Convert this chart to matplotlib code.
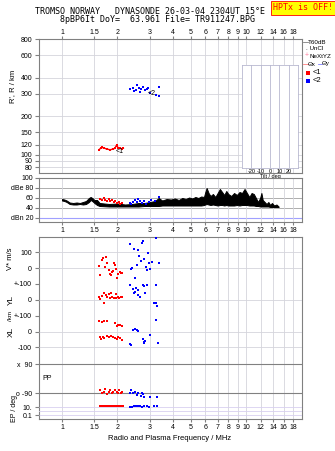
import matplotlib
matplotlib.use('Agg')
import matplotlib.pyplot as plt
from matplotlib.lines import Line2D

W, H = 335, 451

# ---- data ----
freq_ticks = [1, 1.5, 2, 3, 4, 5, 6, 7, 8, 9, 10, 12, 14, 16, 18]
freq_labels = ['1', '1.5', '2', '3', '4', '5', '6', '7', '8', '9', '10', '12', '14', '16', '18']
height_ticks = [80, 90, 100, 120, 150, 200, 300, 400, 600, 800]
tilt_ticks = [-20, -10, 0, 10, 20]

# echo trace <1 (E layer) and <2 (F layer), virtual range
o1_freq = [1.589, 1.623, 1.656, 1.692, 1.749, 1.823, 1.899, 1.941, 1.982, 1.998, 2.022, 2.066, 2.110, 2.154]
o1_range = [109.4, 112.7, 113.9, 112.7, 110.7, 109.4, 110.7, 112.7, 119.6, 116.0, 112.7, 112.7, 111.3, 112.7]
o2_freq = [2.342, 2.423, 2.471, 2.525, 2.566, 2.611, 2.654, 2.688, 2.745, 2.825, 2.886, 2.944, 3.008, 3.243, 3.367, 3.367]
o2_range = [326, 330, 315, 321, 351, 330, 311, 325, 336, 321, 325, 330, 305, 293, 336, 288]

# received amplitude (noise band envelope) and echo amplitudes
noise_freq = [1.00, 1.03, 1.06, 1.10, 1.15, 1.20, 1.25, 1.30, 1.35, 1.40, 1.43, 1.46, 1.50, 1.55,
              1.60, 1.80, 2.00, 2.20, 2.40, 2.60, 2.80, 3.00, 3.20, 3.35, 3.50, 3.70, 3.90, 4.10,
              4.30, 4.50, 4.70, 4.90, 5.10, 5.30, 5.50, 5.70, 5.90, 6.00, 6.10, 6.25, 6.40, 6.60,
              6.80, 7.00, 7.20, 7.40, 7.60, 7.80, 8.00, 8.30, 8.60, 8.90, 9.20, 9.50, 9.80, 10.1,
              10.4, 10.7, 11.0, 11.3, 11.6, 11.9, 12.1, 12.3, 12.6, 12.9, 13.2, 13.5, 13.8, 14.2,
              14.6, 15.0]
noise_lo = [55, 54, 52, 48, 47, 47, 48, 47, 48, 52, 56, 54, 50, 46,
            44, 43, 43, 43, 43, 43, 44, 44, 44, 44, 45, 45, 45, 45,
            45, 45, 45, 45, 45, 45, 45, 45, 46, 47, 48, 47, 46, 47,
            46, 45, 46, 46, 45, 46, 45, 45, 45, 46, 45, 46, 46, 46,
            45, 45, 45, 44, 44, 43, 43, 43, 43, 43, 43, 42, 42, 42,
            42, 42]
noise_hi = [58, 57, 55, 51, 50, 51, 50, 52, 54, 60, 62, 60, 56, 56,
            50, 48, 49, 47, 48, 50, 50, 52, 54, 60, 55, 58, 57, 59,
            56, 60, 58, 61, 59, 62, 60, 63, 62, 72, 80, 70, 64, 68,
            62, 70, 78, 72, 66, 74, 68, 64, 70, 66, 72, 70, 78, 70,
            62, 70, 68, 60, 52, 60, 70, 56, 52, 48, 52, 46, 50, 45,
            47, 43]
o1_amp_freq = [1.60, 1.64, 1.68, 1.71, 1.75, 1.79, 1.83, 1.87, 1.91, 1.95, 1.99, 2.03, 2.07, 2.11]
o1_amp = [58, 56, 60, 57, 55, 58, 54, 56, 52, 55, 50, 52, 48, 51]
o2_amp_freq = [2.33, 2.38, 2.44, 2.49, 2.55, 2.60, 2.66, 2.72, 2.78, 2.86, 2.95, 3.05, 3.20, 3.35]
o2_amp = [50, 48, 53, 56, 52, 58, 54, 50, 55, 49, 53, 57, 55, 62]

# Doppler velocity V* (m/s)
o1_v_freq = [1.596, 1.609, 1.643, 1.664, 1.720, 1.734, 1.749, 1.800, 1.823, 1.838, 1.877, 1.901, 1.925, 1.941, 1.966, 1.982, 2.024, 2.066, 2.084, 2.128]
o1_v = [13, -45, 55, 68, 8, 72, 30, -13, -34, -40, -23, -17, 34, 19, -8, -60, -34, -23, -30, -28]
o2_v_freq = [2.33, 2.36, 2.40, 2.45, 2.50, 2.55, 2.60, 2.63, 2.67, 2.72, 2.76, 2.80, 2.85, 2.88, 2.93, 2.97, 3.02, 3.10, 3.25, 3.38]
o2_v = [155, -5, 2, 120, -60, 20, 115, 80, 45, 160, 170, 60, 5, -10, 95, 30, -5, 40, 190, 35]

# echolocation YL, XL (km)
o1_yl_freq = [1.596, 1.609, 1.643, 1.68, 1.70, 1.734, 1.76, 1.80, 1.83, 1.85, 1.88, 1.92, 1.96, 1.97, 2.02, 2.05, 2.10, 2.13]
o1_yl = [17, 4, 25, 42, -21, 32, 17, 38, 11, 42, 21, 11, 38, 11, 17, 11, 21, 17]
o2_yl_freq = [2.34, 2.42, 2.47, 2.50, 2.53, 2.58, 2.60, 2.64, 2.76, 2.80, 2.82, 2.88, 3.15, 3.25, 3.30, 3.25]
o2_yl = [96, 68, 42, 53, 74, 64, 32, 21, 96, 85, 42, 96, -21, -21, -38, 96]
o1_xl_freq = [1.596, 1.643, 1.69, 1.749, 1.941, 1.982, 2.024, 2.07, 2.11,
              1.60, 1.62, 1.67, 1.70, 1.749, 1.80, 1.85, 1.90, 1.941, 1.982, 2.024, 2.066, 2.128]
o1_xl = [66, 60, 66, 66, 55, 38, 45, 45, 34,
         -34, -47, -36, -40, -30, -36, -30, -34, -40, -47, -36, -40, -51]
o2_xl_freq = [2.34, 2.38, 2.42, 2.50, 2.55, 2.60, 2.76, 2.78, 2.80, 2.82, 3.00, 3.25, 3.33]
o2_xl = [-77, -89, 13, 17, 9, 2, -47, -72, -68, -62, -19, 77, -72]

# polarization PP (deg) and EP (deg)
o1_pp_freq = [1.609, 1.643, 1.68, 1.72, 1.749, 1.79, 1.823, 1.86, 1.90, 1.94, 1.982, 2.02, 2.05, 2.08, 2.13]
o1_pp = [-70, -92, -82, -67, -97, -82, -74, -88, -82, -70, -82, -92, -74, -88, -82]
o2_pp_freq = [2.34, 2.38, 2.42, 2.50, 2.55, 2.60, 2.68, 2.72, 2.76, 2.80, 3.00, 3.30]
o2_pp = [-92, -70, -88, -82, -102, -92, -108, -88, -97, -112, -112, -112]
o1_ep_freq = [1.60, 1.63, 1.66, 1.69, 1.72, 1.75, 1.78, 1.81, 1.84, 1.87, 1.90, 1.93, 1.96, 1.99, 2.02, 2.05, 2.08, 2.11, 2.14]
o1_ep = [18, 18, 18, 18, 18, 18, 18, 18, 18, 18, 18, 18, 18, 18, 18, 18, 18, 18, 18]
o2_ep_freq = [2.34, 2.40, 2.45, 2.52, 2.58, 2.66, 2.72, 2.80, 2.88, 2.98, 3.15, 3.30]
o2_ep = [12, 12, 14, 14, 14, 14, 12, 14, 18, 12, 14, 14]

RED = '#ff0000'
BLUE = '#0000ff'
FRAME = '#808080'
GRID = '#d4d4dc'
FS = 5


def fr(x0, y0, x1, y1):
    return [x0 / W, 1 - y1 / H, (x1 - x0) / W, (y1 - y0) / H]


def freq_axis(ax, labels=True, top=False):
    ax.set_xscale('log')
    ax.set_xlim(0.75, 20.1)
    ax.set_xticks(freq_ticks)
    ax.minorticks_off()
    ax.set_xticklabels(freq_labels if labels else [])
    ax.tick_params(axis='x', labelsize=FS, length=2, color=FRAME, pad=1.5,
                   top=top, labeltop=top, bottom=not top, labelbottom=(not top) and labels)
    ax.grid(axis='x', color=GRID, lw=0.6)
    for s in ax.spines.values():
        s.set_color(FRAME)
        s.set_linewidth(0.8)
    ax.set_axisbelow(True)


plt.rcParams['font.family'] = ['Liberation Sans', 'DejaVu Sans']
fig = plt.figure(figsize=(W / 100, H / 100), dpi=100)

# ---- titles ----
fig.text(150 / W, 1 - 12 / H, 'TROMSO NORWAY   DYNASONDE 26-03-04 2304UT 15\u00b0E',
         family='DejaVu Sans Mono', fontsize=6, ha='center', va='center')
fig.text(157 / W, 1 - 20 / H, '8pBP6It DoY=  63.961 File= TR911247.BPG',
         family='DejaVu Sans Mono', fontsize=6, ha='center', va='center')
fig.text(303 / W, 1 - 8 / H, 'HPTx is OFF!', family='DejaVu Sans Mono', fontsize=6,
         color=RED, ha='center', va='center',
         bbox=dict(boxstyle='square,pad=0.25', fc='#ffff00', ec=RED, lw=0.6))

# ---- virtual range panel ----
axh = fig.add_axes(fr(39, 39, 302, 173))
freq_axis(axh, top=True)
axh.tick_params(axis='x', pad=0.5)
axh.set_yscale('log')
axh.set_ylim(72, 800)
axh.set_yticks(height_ticks)
axh.set_yticklabels([str(t) for t in height_ticks])
axh.minorticks_off()
axh.tick_params(axis='y', labelsize=FS, length=3, color=FRAME, pad=2)
axh.grid(axis='y', color=GRID, lw=0.6)
axh.plot(o1_freq, o1_range, 's', color=RED, ms=1.6, mew=0, zorder=3)
axh.plot(o1_freq, o1_range, '-', color=RED, lw=1.0, zorder=3)
axh.plot(o2_freq, o2_range, 's', color=BLUE, ms=1.8, mew=0, zorder=3)
axh.text(1.96, 106, '<1', fontsize=5, ha='left', va='center', zorder=4)
axh.text(2.92, 302, '<2', fontsize=5, ha='left', va='center', zorder=4)
fig.text(13 / W, 1 - 86 / H, "R', R / km", rotation=90, fontsize=5.5, ha='center', va='center')

# tilt inset
axt = fig.add_axes(fr(242, 65, 298, 168))
axt.set_xlim(-30, 30)
axt.set_ylim(0, 1)
axt.set_xticks(tilt_ticks)
axt.set_xticklabels([str(t) for t in tilt_ticks])
axt.set_yticks([])
axt.grid(axis='x', color='#b8b8d0', lw=0.6)
axt.tick_params(axis='x', labelsize=4, length=0, pad=1)
axt.set_xlabel('Tilt / deg', fontsize=4, labelpad=0)
for s in axt.spines.values():
    s.set_color('#b8b8d0')
    s.set_linewidth(0.6)

# legend at right
fig.add_artist(Line2D([303 / W, 308 / W], [1 - 42 / H] * 2, color=FRAME, lw=0.6))
fig.text(308 / W, 1 - 42 / H, 'T60dB', fontsize=4.5, va='center')
fig.text(306 / W, 1 - 49 / H, '. UnCl', fontsize=4.5, va='center')
fig.text(305 / W, 1 - 56 / H, '+', fontsize=5, color='#ff80a0', va='center')
fig.text(309 / W, 1 - 56 / H, 'NeXtYZ', fontsize=4.5, va='center')
fig.add_artist(Line2D([303 / W, 308 / W], [1 - 64 / H] * 2, color='#ff8080', lw=0.6))
fig.text(308 / W, 1 - 64 / H, '\u0398x', fontsize=4.5, va='center')
fig.add_artist(Line2D([318 / W, 322 / W], [1 - 64 / H] * 2, color='#8080ff', lw=0.6))
fig.text(322 / W, 1 - 64 / H, '\u0398y', fontsize=4.5, va='center')
fig.add_artist(Line2D([308 / W], [1 - 73 / H], marker='s', ms=2.2, color=RED, mew=0))
fig.add_artist(Line2D([308 / W], [1 - 81 / H], marker='s', ms=2.2, color=BLUE, mew=0))
fig.text(313 / W, 1 - 73 / H, '<1', fontsize=5.5, va='center')
fig.text(313 / W, 1 - 81 / H, '<2', fontsize=5.5, va='center')

# ---- amplitude panel ----
axa = fig.add_axes(fr(39, 178, 302, 222))
freq_axis(axa)
axa.set_ylim(12, 100)
axa.set_yticks([20, 40, 60, 80, 100])
axa.set_yticklabels(['dBn 20', '40', '60', 'dBe 80', '100'])
axa.tick_params(axis='y', labelsize=FS, length=3, color=FRAME, pad=1)
for yv in [40, 60, 80]:
    axa.axhline(yv, color='#a0a0a0', lw=0.6, zorder=0)
axa.axhline(20, color='#a0a0ff', lw=0.8, zorder=0)
axa.fill_between(noise_freq, noise_lo, noise_hi, color='black', lw=0.7, zorder=2)
axa.plot(o1_amp_freq, o1_amp, 's', color=RED, ms=1.6, mew=0, zorder=3)
axa.plot(o2_amp_freq, o2_amp, 's', color=BLUE, ms=1.6, mew=0, zorder=3)

# ---- echolocation / polarization panel ----
axf = fig.add_axes(fr(39, 237, 302, 419))
freq_axis(axf)
axf.set_ylim(0, 1)
axf.set_yticks([])


def sub(y0, y1, lo, hi, ticks, labels, log=False):
    a = fig.add_axes(fr(39, y0, 302, y1), facecolor='none')
    a.set_xscale('log')
    a.set_xlim(0.75, 20.1)
    if log:
        a.set_yscale('log')
    a.set_ylim(lo, hi)
    a.set_xticks([])
    a.minorticks_off()
    a.set_yticks(ticks)
    a.set_yticklabels(labels)
    a.tick_params(axis='y', labelsize=FS, length=3, color=FRAME, pad=2)
    for s in a.spines.values():
        s.set_visible(False)
    return a


axv = sub(237, 284, -100, 198, [100, 0, -100], ['100', '0', '+-100'])
axy = sub(284, 316, -100, 100, [0, -100], ['0', '+-100'])
axx = sub(316, 356, -157, 100, [0, -100], ['0', '-100'])
axp = sub(356, 400, -133, 140, [90, -90], ['x  90', 'o -90'])
axe = sub(400, 419, 1e-2, 10 ** 2.75, [10, 0.1], ['10.', '0.1'], log=True)

for a, vals in [(axv, [100, 0, -100]), (axy, [0, -100]), (axx, [0, -100])]:
    for yv in vals:
        a.axhline(yv, color=GRID, lw=0.6, zorder=0)
for yv in [90, -90]:
    axp.axhline(yv, color='#808080', lw=0.8, zorder=0)
for yv in [10, 1, 0.1]:
    axe.axhline(yv, color='#d8d0f0', lw=0.6, zorder=0)

for a, f1, v1, f2, v2 in [(axv, o1_v_freq, o1_v, o2_v_freq, o2_v),
                          (axy, o1_yl_freq, o1_yl, o2_yl_freq, o2_yl),
                          (axx, o1_xl_freq, o1_xl, o2_xl_freq, o2_xl),
                          (axp, o1_pp_freq, o1_pp, o2_pp_freq, o2_pp),
                          (axe, o1_ep_freq, o1_ep, o2_ep_freq, o2_ep)]:
    a.plot(f1, v1, 's', color=RED, ms=1.6, mew=0, clip_on=False)
    a.plot(f2, v2, 's', color=BLUE, ms=1.6, mew=0, clip_on=False)

fig.text(10 / W, 1 - 259 / H, 'V* m/s', rotation=90, fontsize=5.5, ha='center', va='center')
fig.text(11 / W, 1 - 300 / H, 'YL', rotation=90, fontsize=6, ha='center', va='center')
fig.text(11 / W, 1 - 316 / H, '/km', rotation=90, fontsize=4.5, ha='center', va='center')
fig.text(11 / W, 1 - 332 / H, 'XL', rotation=90, fontsize=6, ha='center', va='center')
fig.text(47 / W, 1 - 379 / H, 'PP', fontsize=5, ha='center', va='center')
fig.text(15 / W, 1 - 409 / H, 'EP / deg', rotation=90, fontsize=5, ha='center', va='center')
fig.text(170 / W, 1 - 439 / H, 'Radio and Plasma Frequency / MHz', fontsize=5.5,
         ha='center', va='center')

fig.savefig('out.png', dpi=100)
